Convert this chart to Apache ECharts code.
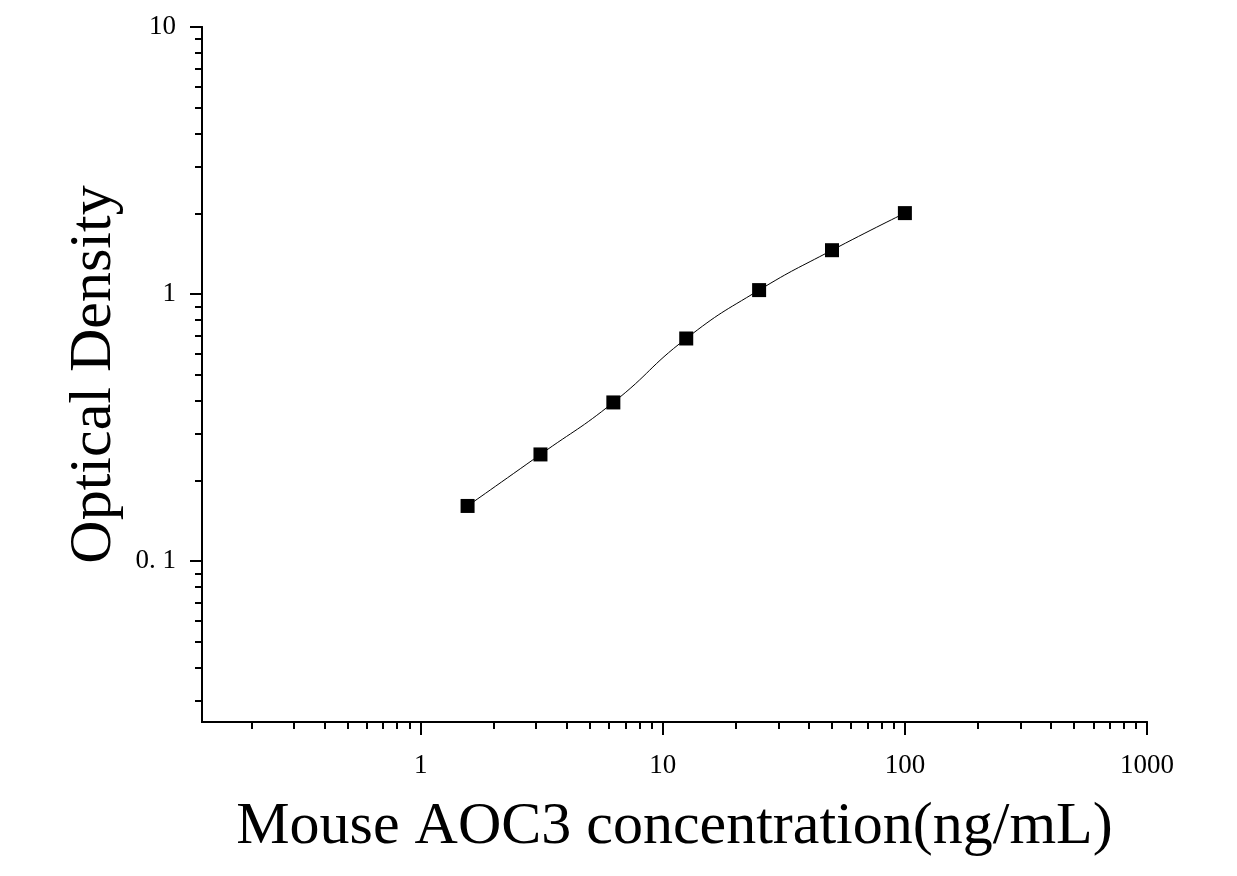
<!DOCTYPE html>
<html><head><meta charset="utf-8">
<script src="https://cdn.jsdelivr.net/npm/echarts@6/dist/echarts.min.js"></script>
<style>html,body{margin:0;padding:0;background:#fff}#c{width:1237px;height:876px}</style>
</head><body><div id="c"></div>
<script>
const concentrations = [1.5625, 3.125, 6.25, 12.5, 25, 50, 100];
const opticalDensity = [0.161, 0.251, 0.393, 0.682, 1.035, 1.46, 2.01];
const xMajorTicks = [1, 10, 100, 1000];
const xMinorTicks = [0.2,0.3,0.4,0.5,0.6,0.7,0.8,0.9,2,3,4,5,6,7,8,9,20,30,40,50,60,70,80,90,200,300,400,500,600,700,800,900];
const yMajorTicks = [0.1, 1, 10];
const yMinorTicks = [0.03,0.04,0.05,0.06,0.07,0.08,0.09,0.2,0.3,0.4,0.5,0.6,0.7,0.8,0.9,2,3,4,5,6,7,8,9];
const yTickLabels = {"0.1": "0. 1", "1": "1", "10": "10"};
const xTitle = "Mouse AOC3 concentration(ng/mL)";
const yTitle = "Optical Density";

const FONT = "'Liberation Serif', 'Times New Roman', serif";
const chart = echarts.init(document.getElementById('c'));
const lineStyle = {color: '#000', width: 2};
function xAxisBase(extra) {
  return Object.assign({
    type: 'log', logBase: 10, min: 0.125, max: 1000, position: 'bottom',
    axisLine: {show: true, onZero: false, lineStyle: lineStyle},
    splitLine: {show: false}, minorTick: {show: false}
  }, extra);
}
function yAxisBase(extra) {
  return Object.assign({
    type: 'log', logBase: 10, min: 0.025, max: 10, position: 'left',
    axisLine: {show: true, onZero: false, lineStyle: lineStyle},
    splitLine: {show: false}, minorTick: {show: false}
  }, extra);
}
chart.setOption({
  animation: false,
  backgroundColor: '#fff',
  grid: {left: 202, right: 90, top: 27, bottom: 154, containLabel: false},
  xAxis: [
    xAxisBase({
      name: xTitle, nameLocation: 'middle', nameGap: 75,
      nameTextStyle: {fontFamily: FONT, fontSize: 60, color: '#000'},
      axisTick: {show: true, customValues: xMajorTicks, length: 13, lineStyle: lineStyle},
      axisLabel: {show: true, customValues: xMajorTicks, margin: 30, fontFamily: FONT, fontSize: 27, color: '#000',
        formatter: v => String(v)}
    }),
    xAxisBase({
      axisTick: {show: true, customValues: xMinorTicks, length: 7, lineStyle: lineStyle},
      axisLabel: {show: false}
    })
  ],
  yAxis: [
    yAxisBase({
      name: yTitle, nameLocation: 'middle', nameGap: 74,
      nameTextStyle: {fontFamily: FONT, fontSize: 60, color: '#000'},
      axisTick: {show: true, customValues: yMajorTicks, length: 12, lineStyle: lineStyle},
      axisLabel: {show: true, customValues: yMajorTicks, margin: 26, fontFamily: FONT, fontSize: 27, color: '#000',
        formatter: v => yTickLabels[String(v)] || String(v)}
    }),
    yAxisBase({
      axisTick: {show: true, customValues: yMinorTicks, length: 7, lineStyle: lineStyle},
      axisLabel: {show: false}
    })
  ],
  series: [{
    type: 'line',
    data: concentrations.map((c, i) => [c, opticalDensity[i]]),
    smooth: 0.5,
    symbol: 'rect', symbolSize: 14,
    itemStyle: {color: '#000'},
    lineStyle: {color: '#000', width: 1}
  }]
});
</script></body></html>
